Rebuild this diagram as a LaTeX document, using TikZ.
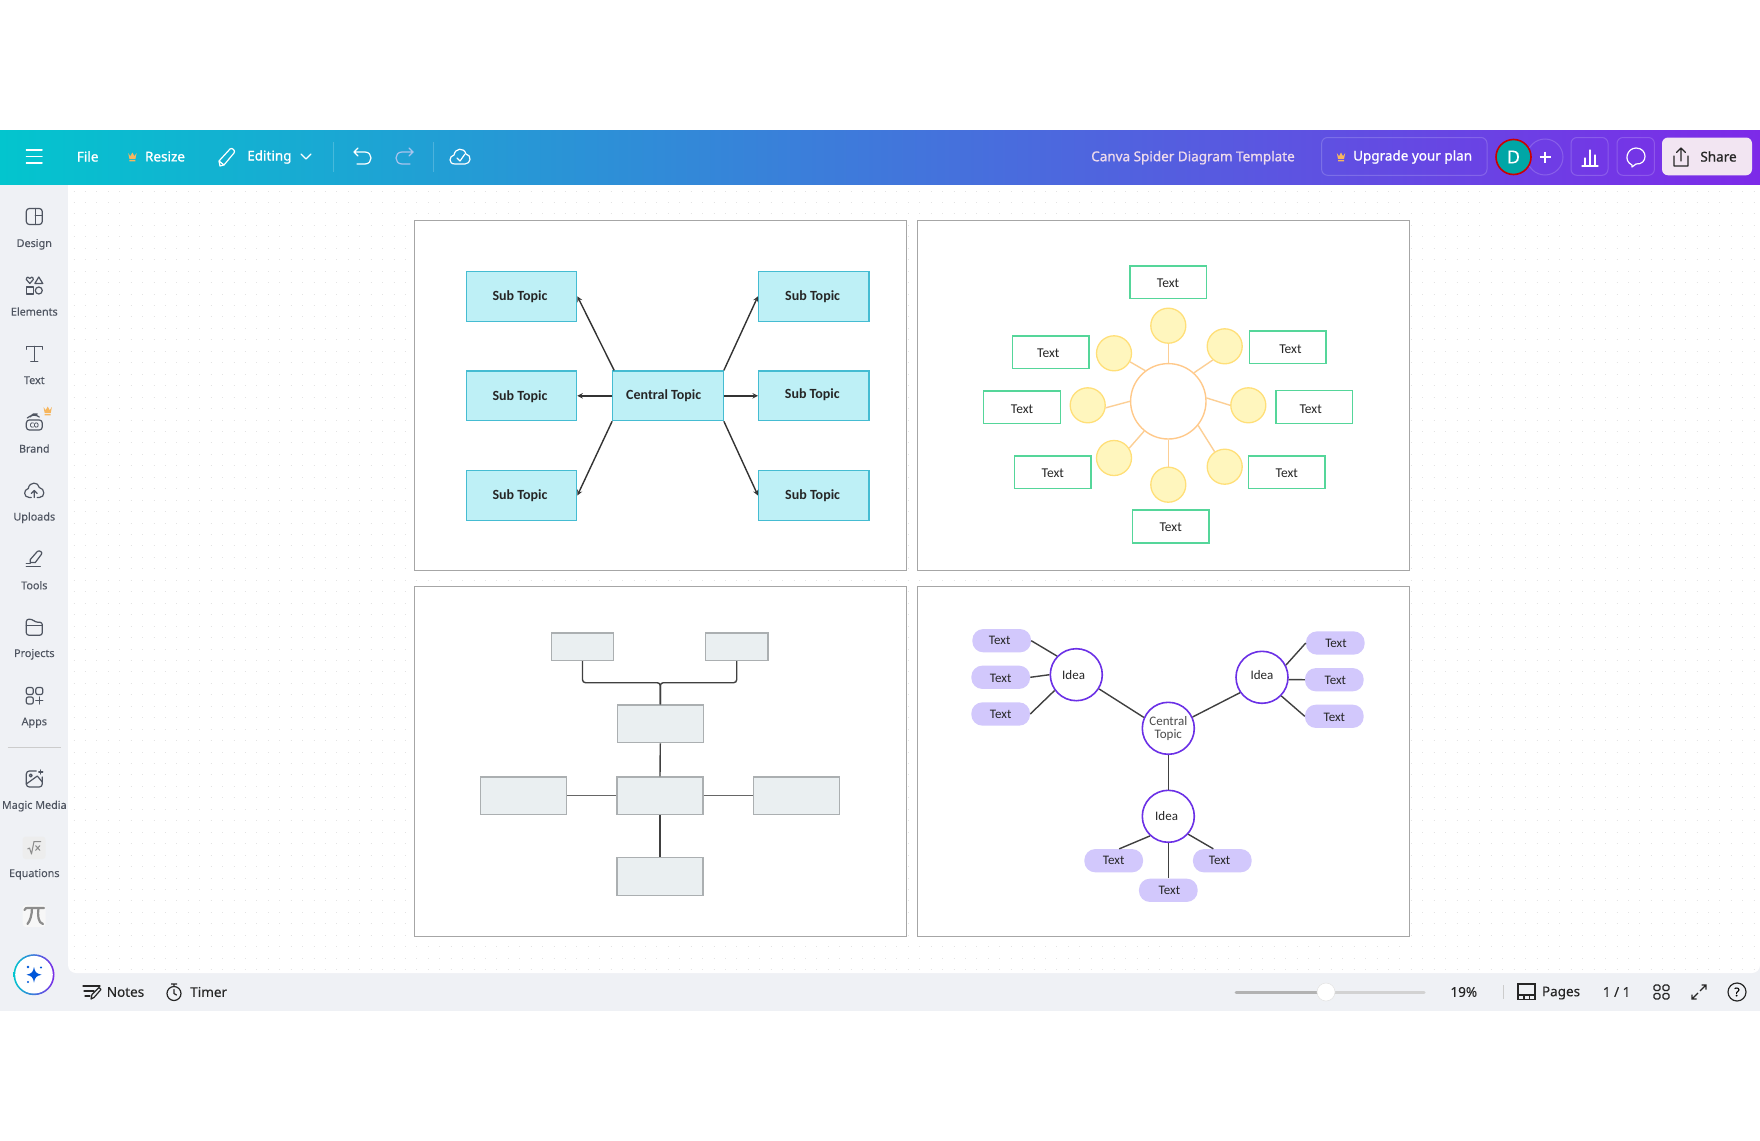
\documentclass[tikz,border=0pt]{standalone}
\usepackage{fontspec}
\usepackage{xcolor}
\usepackage{tikz}
\usetikzlibrary{arrows,calc,positioning}
\setmainfont{Carlito}
\newfontfamily\uifont[FakeBold=0.15]{Noto Sans}
\newfontfamily\uibold[FakeBold=1]{Noto Sans}
\newcommand{\pxsize}[1]{\fontsize{#1}{#1}\selectfont}
\definecolor{barteal}{HTML}{03C5CE}
\definecolor{barblue}{HTML}{3F7BD9}
\definecolor{barviolet}{HTML}{7D2AE8}
\definecolor{sidegrey}{HTML}{EFF1F5}
\definecolor{icogrey}{HTML}{4F5561}
\definecolor{crownc}{HTML}{F6B65E}
\definecolor{topicfill}{HTML}{BEF0F6}
\definecolor{topicline}{HTML}{45BCD2}
\definecolor{greenline}{HTML}{55D69A}
\definecolor{spokefill}{HTML}{FFF6BE}
\definecolor{spokeline}{HTML}{FFDF78}
\definecolor{hubline}{HTML}{FFC98A}
\definecolor{hublink}{HTML}{FCCF95}
\definecolor{greyfill}{HTML}{EAEFF1}
\definecolor{greyline}{HTML}{ABAFB1}
\definecolor{pillfill}{HTML}{D2C8FC}
\definecolor{idealine}{HTML}{6B30E6}
\newcommand{\crown}[2]{\fill[crownc,shift={(#1,#2)}] (-4.2,-4) -- (-2,-0.8) -- (0,-4.5) -- (2,-0.8) -- (4.2,-4) -- (3,2) -- (-3,2) -- cycle (-3,3) rectangle (3,4.4);}

\begin{document}
\begin{tikzpicture}[x=1pt,y=-1pt,
	arrow/.style={line width=1.4pt,draw=black!80,-stealth},
	link/.style={line width=1.4pt,draw=black!75},
	sublink/.style={line width=1.4pt,draw=hublink},
	ico/.style={draw=icogrey,line width=1.2pt,line cap=round,line join=round},
	whiteico/.style={draw=white,line width=1.2pt,line cap=round,line join=round},
	panel/.style={draw=black!35,line width=1.2pt,fill=white,rectangle,inner sep=0pt,minimum width=492pt,minimum height=350pt}]
	\tikzset{topicbox/.style={draw=topicline,line width=1.2pt,fill=topicfill,rectangle,inner sep=0pt,minimum width=110.5pt,minimum height=49.7pt}}
	\tikzset{topictxt/.style={font=\pxsize{14}\bfseries,text=black!85,inner sep=0pt}}
	\tikzset{greenbox/.style={draw=greenline,line width=1.4pt,fill=white,rectangle,inner sep=0pt,minimum width=76.5pt,minimum height=32.8pt}}
	\tikzset{plaintxt/.style={font=\pxsize{13.5},text=black!85,inner sep=0pt}}
	\tikzset{spoke/.style={draw=spokeline,line width=1.3pt,fill=spokefill,circle,inner sep=0pt,minimum size=35pt}}
	\tikzset{greybox/.style={draw=greyline,line width=1.2pt,fill=greyfill,rectangle,inner sep=0pt,minimum width=86pt,minimum height=37.7pt}}
	\tikzset{greysmall/.style={greybox,minimum width=62.4pt,minimum height=27.5pt}}
	\tikzset{ideacirc/.style={draw=idealine,line width=1.6pt,fill=white,circle,inner sep=0pt,minimum size=52pt}}
	\tikzset{pill/.style={fill=pillfill,rectangle,rounded corners=11pt,inner sep=0pt,minimum width=58.7pt,minimum height=23.3pt}}
	\tikzset{sidetxt/.style={font=\uifont\pxsize{10.8},text=icogrey,inner sep=0pt}}
	\tikzset{bartxt/.style={font=\uibold\pxsize{13.5},text=white,inner sep=0pt}}
	\tikzset{foottxt/.style={font=\uifont\pxsize{13.5},text=black!85,inner sep=0pt}}

	\useasboundingbox (0,-1) rectangle (1760,1139);
	\fill[white] (0,-1) rectangle (1760,1139);
	\fill[sidegrey] (0,183) rectangle (1760,1010);
	\fill[white] (68,183) [rounded corners=8pt] -- (68,972) -- (1760,972) [sharp corners] -- (1760,183) -- cycle;
	\foreach \k in {0,...,68}
		\draw[draw=black!11,line width=1pt,dash pattern=on 1pt off 10.43pt] (73.5,190+11.45*\k) -- (1760,190+11.45*\k);

	\node[panel] (panelA) at (660.6,394.8) {};
	\node[panel] (panelB) at (1163.5,394.8) {};
	\node[panel] (panelC) at (660.6,760.7) {};
	\node[panel] (panelD) at (1163.5,760.2) {};

	\node[topicbox,label={[topictxt,xshift=-1.5pt]center:Sub Topic}] (subTL) at (521.5,295.3) {};
	\node[topicbox,label={[topictxt,xshift=-1.5pt,yshift=-1.3pt]center:Sub Topic}] (subML) at (521.5,394.8) {};
	\node[topicbox,label={[topictxt,xshift=-1.5pt,yshift=-.5pt]center:Sub Topic}] (subBL) at (521.5,494.5) {};
	\node[topicbox,label={[topictxt,xshift=-1.2pt]center:Sub Topic}] (subTR) at (813.8,295.3) {};
	\node[topicbox,label={[topictxt,xshift=-1.5pt,yshift=1.3pt]center:Sub Topic}] (subMR) at (813.8,394.8) {};
	\node[topicbox,label={[topictxt,xshift=-1.2pt,yshift=-.5pt]center:Sub Topic}] (subBR) at (813.8,494.5) {};
	\node[topicbox,label={[topictxt,xshift=-4.3pt]center:Central Topic}] (central) at (668,394.8) {};
	\draw[arrow] ([xshift=2pt]central.north west) -- (subTL.east);
	\draw[arrow] (central.north east) -- (subTR.west);
	\draw[arrow] (central.west) -- (subML.east);
	\draw[arrow] (central.east) -- (subMR.west);
	\draw[arrow] (central.south west) -- (subBL.east);
	\draw[arrow] (central.south east) -- (subBR.west);

	\node[circle,draw=hubline,line width=1.4pt,fill=white,inner sep=0pt,minimum size=75.4pt] (hub) at (1168.3,400.3) {};
	\node[spoke] (spT) at (1168.3,324.7) {};
	\node[spoke] (spUR) at (1224.7,345.3) {};
	\node[spoke] (spR) at (1248.3,404.3) {};
	\node[spoke] (spLR) at (1224.7,465.7) {};
	\node[spoke] (spB) at (1168.3,483.7) {};
	\node[spoke] (spLL) at (1114,457) {};
	\node[spoke] (spL) at (1087.7,404.3) {};
	\node[spoke] (spUL) at (1114,352.3) {};
	\draw[sublink] (hub.north) -- (spT.south);
	\draw[sublink] (hub.48) -- (spUR.229);
	\draw[sublink] (hub.5) -- (spR.180);
	\draw[sublink] (hub.-39) -- (spLR.124);
	\draw[sublink] (hub.south) -- (spB.north);
	\draw[sublink] (hub.231) -- (spLL.33);
	\draw[sublink] (hub.180) -- (spL.-8);
	\draw[sublink] (hub.127) -- (spUL.-28);
	\node[greenbox,label={[plaintxt,xshift=-.3pt,yshift=-1.5pt]center:Text}] (txtT) at (1168.3,281.2) {};
	\node[greenbox,label={[plaintxt,xshift=2.7pt,yshift=-1.8pt]center:Text}] (txtUR) at (1287.7,346.2) {};
	\node[greenbox,label={[plaintxt,xshift=-3.5pt,yshift=-2.8pt]center:Text}] (txtR) at (1314.2,405.8) {};
	\node[greenbox,label={[plaintxt,yshift=-1.2pt]center:Text}] (txtLR) at (1286.8,471.2) {};
	\node[greenbox,label={[plaintxt,yshift=-.8pt]center:Text}] (txtB) at (1170.7,525.5) {};
	\node[greenbox,label={[plaintxt,yshift=-1.2pt]center:Text}] (txtLL) at (1052.8,471.2) {};
	\node[greenbox,label={[plaintxt,yshift=-2.5pt]center:Text}] (txtL) at (1022,406.2) {};
	\node[greenbox,label={[plaintxt,xshift=-2.5pt,yshift=-1.5pt]center:Text}] (txtUL) at (1050.8,351.2) {};

	\node[greysmall] (grTL) at (582.5,645.8) {};
	\node[greysmall] (grTR) at (736.7,645.7) {};
	\node[greybox] (grUp) at (660.3,722.8) {};
	\node[greybox] (grMid) at (660,794.8) {};
	\node[greybox] (grL) at (523.7,794.8) {};
	\node[greybox] (grR) at (796.8,794.8) {};
	\node[greybox] (grDown) at (660,875.5) {};
	\coordinate (grJoin) at (660.3,681.7);
	\draw[link,rounded corners=3pt] (grTL.south) |- (grJoin) -- (grUp.north);
	\draw[link,rounded corners=3pt] (grTR.south) |- (grJoin) -- (grUp.north);
	\draw[link] (grUp.south) -- (grMid.north);
	\draw[link,line width=1.1pt,draw=black!60] (grMid.west) -- (grL.east);
	\draw[link,line width=1.1pt,draw=black!60] (grMid.east) -- (grR.west);
	\draw[link] (grMid.south) -- (grDown.north);

	\node[ideacirc,label={[plaintxt,align=center,font=\pxsize{13},text=black!70]center:Central\\Topic}] (ideaC) at (1168.3,727.3) {};
	\node[ideacirc,label={[plaintxt,font=\pxsize{13},xshift=-2.7pt]center:Idea}] (ideaL) at (1076.3,673.7) {};
	\node[ideacirc,label={[plaintxt,font=\pxsize{13},yshift=2pt]center:Idea}] (ideaR) at (1262,676.3) {};
	\node[ideacirc,label={[plaintxt,font=\pxsize{13},xshift=-1.7pt]center:Idea}] (ideaB) at (1168.3,815.3) {};
	\node[pill,label={[plaintxt,font=\pxsize{13},xshift=-2pt]center:Text}] (pilLa) at (1001.7,639.7) {};
	\node[pill,label={[plaintxt,font=\pxsize{13},yshift=-.7pt]center:Text}] (pilLb) at (1000.7,676.3) {};
	\node[pill,label={[plaintxt,font=\pxsize{13}]center:Text}] (pilLc) at (1000.7,713) {};
	\node[pill,label={[plaintxt,font=\pxsize{13},xshift=.7pt,yshift=-.7pt]center:Text}] (pilRa) at (1335.3,642) {};
	\node[pill,label={[plaintxt,font=\pxsize{13},xshift=1pt,yshift=-1pt]center:Text}] (pilRb) at (1334.3,678.7) {};
	\node[pill,label={[plaintxt,font=\pxsize{13},yshift=-.7pt]center:Text}] (pilRc) at (1334.3,715.3) {};
	\node[pill,label={[plaintxt,font=\pxsize{13}]center:Text}] (pilBa) at (1113.7,859.7) {};
	\node[pill,label={[plaintxt,font=\pxsize{13},xshift=-2.7pt]center:Text}] (pilBb) at (1222.3,859.7) {};
	\node[pill,label={[plaintxt,font=\pxsize{13},xshift=1.1pt]center:Text}] (pilBc) at (1168.3,889.3) {};
	\draw[link] (ideaC.156) -- (ideaL.-32);
	\draw[link] (ideaC.25) -- (ideaR.215);
	\draw[link] (ideaC.south) -- (ideaB.north);
	\draw[link] (pilLa.east) -- (ideaL.136);
	\draw[link] (pilLb.east) -- (ideaL.180);
	\draw[link] (pilLc.east) -- (ideaL.216);
	\draw[link] (pilRa.west) -- (ideaR.27);
	\draw[link] (pilRb.west) -- (ideaR.-5);
	\draw[link] (pilRc.west) -- (ideaR.-44);
	\draw[link] (pilBa.65) -- (ideaB.227);
	\draw[link] (pilBb.127) -- (ideaB.-42);
	\draw[link] (pilBc.north) -- (ideaB.south);

	\begin{scope}[yshift=1pt]
	\shade[left color=barteal,middle color=barblue,right color=barviolet] (0,130) rectangle (1760,184.5);
	\draw[whiteico,line width=1.5pt] (26.4,150) -- (42,150) (26.4,156.7) -- (42,156.7) (26.4,163) -- (42,163);
	\node[bartxt] (fileTxt) at (87.7,156.5) {File};
	\crown{132.4}{157}
	\node[bartxt] (resizeTxt) at (165,156.5) {Resize};
	\begin{scope}[shift={(227,157)},whiteico]
		\draw (-7,9) -- (-8,4) -- (3,-8) .. controls (5,-10) and (9,-6) .. (7,-4) -- (-3,8) -- cycle (-8,4) -- (-3,8);
	\end{scope}
	\node[bartxt] (editTxt) at (269.4,157) {Editing};
	\draw[whiteico] (301,154) -- (306,159) -- (311,154);
	\draw[white,opacity=.2,line width=.8pt] (333,142) -- (333,172);
	\begin{scope}[shift={(362,157)},whiteico]
		\draw (-4,-9) -- (-8,-5) -- (-4,-1) (-8,-5) -- (3,-5) .. controls (11,-5) and (11,7) .. (3,7) -- (-5,7);
	\end{scope}
	\begin{scope}[shift={(405,157)},draw=white!55!barblue,line width=1.2pt,line cap=round]
		\draw (4,-9) -- (8,-5) -- (4,-1) (8,-5) -- (-3,-5) .. controls (-11,-5) and (-11,7) .. (-3,7) -- (5,7);
	\end{scope}
	\draw[white,opacity=.2,line width=.8pt] (433,142) -- (433,172);
	\begin{scope}[shift={(460,157)},whiteico]
		\draw (-5,7) .. controls (-12,7) and (-11,-1) .. (-6,-2) .. controls (-5,-9) and (4,-10) .. (6,-3) .. controls (12,-2) and (11,7) .. (5,7) -- cycle;
		\draw (-3,1) -- (0,4) -- (5,-3);
	\end{scope}
	\node[font=\uibold\pxsize{13.5},text=white!85!violet,inner sep=0pt] (titleTxt) at (1193,157.7) {Canva Spider Diagram Template};
	\draw[draw=white,opacity=.18,line width=1pt,rounded corners=6pt] (1321.6,137.5) rectangle (1487,175.3);
	\crown{1341}{157}
	\node[bartxt] (upgradeTxt) at (1412.6,157) {Upgrade your plan};
	\draw[draw=white,opacity=.18,line width=1pt] (1545,157) circle (18pt);
	\node[circle,draw=red!80!black,line width=1.6pt,fill=teal!70!cyan,text=white,font=\uifont\pxsize{18},inner sep=0pt,minimum size=35pt] (avatar) at (1513.5,157) {D};
	\draw[white,line width=1.3pt] (1539.5,157) -- (1550.5,157) (1545,151.5) -- (1545,162.5);
	\draw[draw=white,opacity=.18,line width=1pt,rounded corners=6pt] (1571,137.5) rectangle (1608,175.3);
	\draw[whiteico] (1582,166) -- (1598,166) (1585,165) -- (1585,158) (1590,165) -- (1590,150) (1595,165) -- (1595,155);
	\draw[draw=white,opacity=.18,line width=1pt,rounded corners=6pt] (1617,137.5) rectangle (1654.4,175.3);
	\draw[whiteico] (1632,165) .. controls (1623,161) and (1627,148) .. (1636,148) .. controls (1648,148) and (1648,165) .. (1636,164) -- (1632,167) -- cycle;
	\fill[white!90!violet,rounded corners=6pt] (1662,137.5) rectangle (1752,175.3);
	\draw[black!85,line width=1.2pt,line cap=round,line join=round] (1674,156) -- (1674,166) -- (1688,166) -- (1688,156) (1681,161) -- (1681,148) (1676.5,152.5) -- (1681,148) -- (1685.5,152.5);
	\node[font=\uibold\pxsize{13.5},text=black!85,inner sep=0pt] (shareTxt) at (1718.5,156.5) {Share};
	\end{scope}

	\begin{scope}[shift={(34.3,215.5)},ico]
		\draw[rounded corners=3pt] (-8,-8) rectangle (8,8);
		\draw (1,-8) -- (1,8) (1,-1) -- (8,-1);
	\end{scope}
	\node[sidetxt] (designTxt) at (34.3,243.3) {Design};
	\begin{scope}[shift={(34.3,284.5)},ico]
		\draw (-4.5,-2) -- (-8,-6) .. controls (-8,-9) and (-5,-9) .. (-4.5,-7) .. controls (-4,-9) and (-1,-9) .. (-1,-6) -- cycle;
		\draw (4.5,-8.5) -- (8.5,-2) -- (0.5,-2) -- cycle;
		\draw (-8,1.5) rectangle (-1,8.5);
		\draw (4.5,5) circle (3.5pt);
	\end{scope}
	\node[sidetxt] (elementsTxt) at (34.3,310.5) {Elements};
	\begin{scope}[shift={(34.3,352.8)},ico]
		\draw (-8,-4.5) -- (-8,-7.5) -- (8,-7.5) -- (8,-4.5) (0,-7.5) -- (0,7.5) (-3.5,7.5) -- (3.5,7.5);
	\end{scope}
	\node[sidetxt] (textTxt) at (34.3,379.2) {Text};
	\begin{scope}[shift={(34.3,421)},ico]
		\draw[rounded corners=3pt] (-8,-2) rectangle (8,8);
		\draw (-7,-4) .. controls (-4,-7) and (2,-8) .. (5,-5) (-4,-5) .. controls (-2,-8) and (0,-9) .. (3,-8);
	\end{scope}
	\node[font=\uifont\pxsize{6.5},text=icogrey,inner sep=0pt] (coTxt) at (34.3,424) {CO};
	\crown{47.7}{410}
	\node[sidetxt] (brandTxt) at (34.3,447.5) {Brand};
	\begin{scope}[shift={(34.3,489.5)},ico]
		\draw (-3,7) -- (-5,7) .. controls (-11,7) and (-11,-1) .. (-6,-2) .. controls (-5,-9) and (4,-9) .. (5,-3) .. controls (11,-2) and (11,7) .. (5,7) -- (3,7);
		\draw (0,7) -- (0,0) (-3,3) -- (0,0) -- (3,3);
	\end{scope}
	\node[sidetxt] (uploadsTxt) at (34.3,516.7) {Uploads};
	\begin{scope}[shift={(34.3,557.5)},ico]
		\draw (-4,1) -- (3,-7) .. controls (5,-9) and (9,-6) .. (7,-4) -- (1,4) -- (-4,4) -- cycle;
		\draw (-8,8) -- (6,8) (-8,5) -- (-4,5);
	\end{scope}
	\node[sidetxt] (toolsTxt) at (34.3,584.2) {Tools};
	\begin{scope}[shift={(34.3,626.2)},ico]
		\draw[rounded corners=2.5pt] (-8,8) -- (-8,-8) -- (-2,-8) -- (1,-5) -- (8,-5) -- (8,8) -- cycle;
		\draw (-8,-2) -- (8,-2);
	\end{scope}
	\node[sidetxt] (projectsTxt) at (34.3,653.3) {Projects};
	\begin{scope}[shift={(34.3,694.5)},ico]
		\draw[rounded corners=2pt] (-8,-8) rectangle (-1,-1);
		\draw[rounded corners=2pt] (1.5,-8) rectangle (8.5,-1);
		\draw[rounded corners=2pt] (-8,1.5) rectangle (-1,8.5);
		\draw (5,1.5) -- (5,8.5) (1.5,5) -- (8.5,5);
	\end{scope}
	\node[sidetxt] (appsTxt) at (34.3,721.7) {Apps};
	\draw[black!20,line width=.8pt] (7.7,746) -- (60.7,746);
	\begin{scope}[shift={(34.3,778)},ico]
		\draw[rounded corners=3pt] (2,-8) -- (-8,-8) -- (-8,8) -- (8,8) -- (8,-2);
		\draw (-8,5) -- (3,-3) -- (8,3);
		\draw (-3.5,-3.5) circle (1.5pt);
		\draw (6.5,-9) -- (6.5,-5) (4.5,-7) -- (8.5,-7);
	\end{scope}
	\node[sidetxt] (magicTxt) at (34.3,805) {Magic Media};
	\fill[black!7,rounded corners=3pt] (22.7,835.5) rectangle (45.5,858);
	\draw[black!45,line width=1pt,line join=round] (27.5,848) -- (29.5,847) -- (31.5,853) -- (34,840.5) -- (41,840.5) (35.5,844.5) -- (40,849.5) (40,844.5) -- (35.5,849.5);
	\node[sidetxt] (equationsTxt) at (34.3,873.3) {Equations};
	\fill[black!3,rounded corners=3pt] (22.7,904) rectangle (45.5,926);
	\draw[black!45,line width=2.2pt,line cap=round] (24.5,909) .. controls (25.5,907) .. (29,907) -- (44,907) (32,907) .. controls (32,914) and (30,920) .. (27.5,923) (38.5,907) .. controls (37.5,914) and (38,922) .. (43,923);
	\shade[left color=barteal,right color=barviolet] (34,973.7) circle (20.5pt);
	\fill[white] (34,973.7) circle (18.8pt);
	\fill[blue!60!cyan!85!black] (34,966) .. controls (35,971) and (36,972.5) .. (41.5,973.7) .. controls (36,975) and (35,976.5) .. (34,981.5) .. controls (33,976.5) and (32,975) .. (26.5,973.7) .. controls (32,972.5) and (33,971) .. (34,966) -- cycle;
	\fill[blue!60!cyan!85!black] (28,966) circle (1.4pt) (41,966.5) circle (1.2pt) (28,981) circle (1.2pt);

	\draw[black!85,line width=1.2pt,line cap=round] (83,985) -- (100,985) (84,990) -- (94,990) (85,995) -- (90,995);
	\draw[black!85,line width=1.2pt,line join=round] (91,998) -- (92,993.5) -- (99,986.5) -- (101,988.5) -- (94,996.5) -- cycle;
	\node[foottxt] (notesTxt) at (125.5,991) {Notes};
	\draw[black!85,line width=1.2pt] (174,992.5) circle (7pt) (171,983) -- (177,983) (174,983) -- (174,985.5);
	\draw[black!85,line width=1.2pt,line cap=round] (174,988.5) -- (174,992.5) -- (176.5,994);
	\node[foottxt] (timerTxt) at (208.7,991) {Timer};
	\draw[draw=gray!35,line width=3pt,line cap=round] (1326,991) -- (1424,991);
	\draw[draw=gray!60,line width=3pt,line cap=round] (1236,991) -- (1326,991);
	\node[circle,fill=white,draw=black!10,line width=.6pt,inner sep=0pt,minimum size=18pt] (knob) at (1326,991) {};
	\node[foottxt] (zoomTxt) at (1463.8,991) {19\%};
	\draw[black!20,line width=.8pt] (1503,984) -- (1503,998);
	\draw[black!85,line width=1.2pt] (1518,983) rectangle (1535,994) (1518,994) rectangle (1535,998.5) (1524,994) -- (1524,998.5) (1529.5,994) -- (1529.5,998.5);
	\node[foottxt] (pagesTxt) at (1561,992) {Pages};
	\node[foottxt] (countTxt) at (1616.6,991) {1 / 1};
	\begin{scope}[shift={(1661.4,991)},draw=black!85,line width=1.2pt]
		\draw[rounded corners=1.5pt] (-7.5,-7) rectangle (-1.5,-1.5);
		\draw[rounded corners=1.5pt] (1.5,-7) rectangle (7.5,-1.5);
		\draw[rounded corners=1.5pt] (-7.5,1.5) rectangle (-1.5,7);
		\draw[rounded corners=1.5pt] (1.5,1.5) rectangle (7.5,7);
	\end{scope}
	\begin{scope}[shift={(1699,991)},draw=black!85,line width=1.2pt]
		\draw (1,-1) -- (7,-7) (2.5,-7) -- (7,-7) -- (7,-2.5);
		\draw (-1,1) -- (-7,7) (-2.5,7) -- (-7,7) -- (-7,2.5);
	\end{scope}
	\node[circle,draw=black!85,line width=1.2pt,font=\uifont\pxsize{12},inner sep=0pt,minimum size=18pt] (helpBtn) at (1737,991) {?};
\end{tikzpicture}
\end{document}
